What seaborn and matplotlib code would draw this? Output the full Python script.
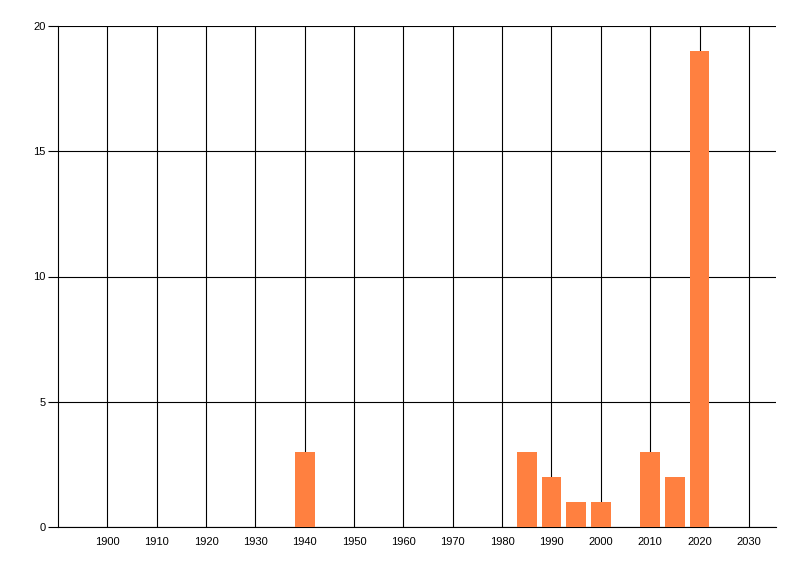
import matplotlib
matplotlib.use("Agg")
import matplotlib.pyplot as plt
import numpy as np
import pandas as pd
import seaborn as sns

# values
years = [1940, 1985, 1990, 1995, 2000, 2010, 2015, 2020]
counts = [3, 3, 2, 1, 1, 3, 2, 19]
x_ticks = list(range(1900, 2031, 10))
y_ticks = [0, 5, 10, 15, 20]

bar_color = "#FF8040"

sns.set_theme(style="white")
plt.rcParams["font.family"] = ["Liberation Sans", "DejaVu Sans"]

fig = plt.figure(figsize=(8, 5.76), dpi=100)
ax = fig.add_axes([58 / 800, 49 / 576, (776 - 58) / 800, (527 - 26) / 576])

df = pd.DataFrame({"year": years, "count": counts})
sns.barplot(data=df, x="year", y="count", native_scale=True, color=bar_color,
            saturation=1, width=0.8, linewidth=0, ax=ax, zorder=3)

ax.set_axisbelow(True)
ax.set_xlim(1890, 2035.5)
ax.set_ylim(0, 20)
ax.set_xticks(x_ticks)
ax.set_yticks(y_ticks)
ax.grid(True, color="black", linewidth=0.8)
ax.set_xlabel("")
ax.set_ylabel("")

for side in ["top", "right"]:
    ax.spines[side].set_visible(False)
for side in ["left", "bottom"]:
    ax.spines[side].set_color("black")
    ax.spines[side].set_linewidth(0.8)

ax.tick_params(axis="x", length=0, pad=7, labelsize=8, colors="black")
ax.tick_params(axis="y", left=True, length=7, width=0.8, pad=2, labelsize=8,
               colors="black")

fig.savefig("out.png", dpi=100, facecolor="white")
